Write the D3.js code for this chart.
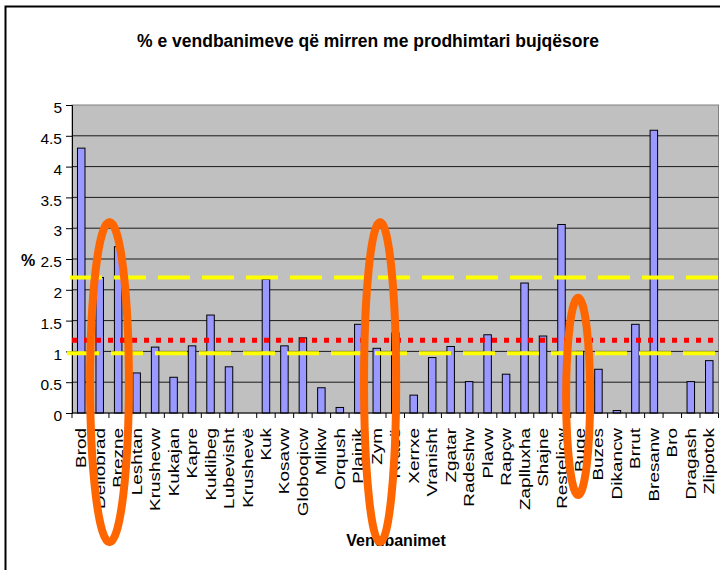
<!DOCTYPE html>
<html>
<head>
<meta charset="utf-8">
<script src="https://cdn.jsdelivr.net/npm/d3@7"></script>
<style>
  body { margin: 0; background: #fff; }
  text { font-family: "Liberation Sans", Arial, sans-serif; fill: #000; }
</style>
</head>
<body>
<div class="chart"></div>
<script>
// data
var categories = ['Brod', 'Dellobrad', 'Brezne', 'Leshtan', 'Krushevw', 'Kukajan', 'Kapre',
  'Kuklibeg', 'Lubevisht', 'Krushevë', 'Kuk', 'Kosavw', 'Globoqicw', 'Mlikw', 'Orqush',
  'Plainik', 'Zym', 'Rrasë', 'Xerrxe', 'Vranisht', 'Zgatar', 'Radeshw', 'Plavw', 'Rapçw',
  'Zaplluxha', 'Shajne', 'Resteliçw', 'Buqe', 'Buzes', 'Dikancw', 'Brrut', 'Bresanw',
  'Bro', 'Dragash', 'Zlipotok'];
var values = [4.30, 2.20, 2.70, 0.65, 1.07, 0.58, 1.09, 1.59, 0.75, 0, 2.17, 1.09, 1.22,
  0.41, 0.09, 1.44, 1.05, 1.30, 0.29, 0.90, 1.08, 0.51, 1.27, 0.63, 2.11, 1.25, 3.06,
  1.00, 0.71, 0.04, 1.44, 4.59, 0, 0.51, 0.85];
var yTicks = [0, 0.5, 1, 1.5, 2, 2.5, 3, 3.5, 4, 4.5, 5];
var yTickLabels = ['0', '0.5', '1', '1.5', '2', '2.5', '3', '3.5', '4', '4.5', '5'];
// horizontal reference lines: upper yellow, red dotted, lower yellow
var refValues = [2.2, 1.18, 0.97];
// orange ellipses drawn over the chart (category index, value top / bottom, half width in categories)
var circledIndex = [1.53, 16.18, 26.9];
var circledTop = [3.1, 3.1, 1.87];
var circledBottom = [-2.1, -2.1, -1.33];
var circledHalfWidth = [1.05, 0.87, 0.65];

var title = '% e vendbanimeve që mirren me prodhimtari bujqësore';
var xTitle = 'Vendbanimet';
var yTitle = '%';

var width = 720, height = 570;
var plot = { left: 72, right: 718.5, top: 105, bottom: 413 };

var svg = d3.select('.chart')
  .append('svg')
    .attr('width', width)
    .attr('height', height);

// chart frame (runs off the right and bottom edge)
svg.append('rect')
  .attr('x', 5.5).attr('y', 6.5)
  .attr('width', width).attr('height', height)
  .attr('fill', '#fff')
  .attr('stroke', '#000')
  .attr('stroke-width', 2);

var xScale = d3.scaleBand()
  .domain(categories)
  .range([plot.left, plot.right]);

var yScale = d3.scaleLinear()
  .domain([0, 5])
  .range([plot.bottom, plot.top]);

// plot area
svg.append('rect')
  .attr('x', plot.left).attr('y', plot.top)
  .attr('width', plot.right - plot.left).attr('height', plot.bottom - plot.top)
  .attr('fill', '#c0c0c0')
  .attr('stroke', '#808080');

// gridlines
svg.append('g')
  .selectAll('line')
  .data(yTicks.filter(d => d > 0 && d < 5))
  .enter()
  .append('line')
    .attr('x1', plot.left).attr('x2', plot.right)
    .attr('y1', d => yScale(d)).attr('y2', d => yScale(d))
    .attr('stroke', '#1a1a1a');

// bars (zero values draw nothing)
var barData = categories
  .map((c, i) => ({ name: c, value: values[i] }))
  .filter(d => d.value > 0);
var barWidth = 7.5;
svg.append('g')
  .selectAll('rect')
  .data(barData)
  .enter()
  .append('rect')
    .attr('x', d => xScale(d.name) + (xScale.step() - barWidth) / 2)
    .attr('y', d => yScale(d.value))
    .attr('width', barWidth)
    .attr('height', d => yScale(0) - yScale(d.value))
    .attr('fill', '#9999ff')
    .attr('stroke', '#000')
    .attr('stroke-width', 1);

// y axis
var yAxis = svg.append('g')
  .attr('transform', `translate(${plot.left}, 0)`)
  .call(d3.axisLeft(yScale)
    .tickValues(yTicks)
    .tickFormat((d, i) => yTickLabels[i])
    .tickSize(6)
    .tickPadding(4));
yAxis.select('.domain').attr('stroke', '#000');
yAxis.selectAll('line').attr('stroke', '#000');
yAxis.selectAll('text')
  .attr('font-family', '"Liberation Sans", Arial, sans-serif')
  .attr('font-size', 15.5)
  .attr('dy', '0.5em')
  .attr('fill', '#000');

// x axis line, ticks between categories, rotated labels
svg.append('line')
  .attr('x1', plot.left).attr('x2', plot.right)
  .attr('y1', yScale(0)).attr('y2', yScale(0))
  .attr('stroke', '#000');

svg.append('g')
  .selectAll('line')
  .data(categories.concat(['end']))
  .enter()
  .append('line')
    .attr('x1', d => d === 'end' ? plot.right : xScale(d))
    .attr('x2', d => d === 'end' ? plot.right : xScale(d))
    .attr('y1', yScale(0)).attr('y2', yScale(0) + 5)
    .attr('stroke', '#000');

svg.append('g')
  .selectAll('text')
  .data(categories)
  .enter()
  .append('text')
    .attr('transform', d => `translate(${xScale(d) + xScale.step() / 2}, ${yScale(0) + 15}) rotate(-90) scale(1.35, 1)`)
    .attr('text-anchor', 'end')
    .attr('dy', '0.36em')
    .attr('font-size', 14)
    .text(d => d);

// reference lines
var refStyle = [
  { color: '#ffff00', dash: '32,12', width: 4, start: -2 },
  { color: '#ff0000', dash: '5,7', width: 5, start: 0 },
  { color: '#ffff00', dash: '32,12', width: 4, start: -5 }
];
svg.append('g')
  .selectAll('line')
  .data(refValues)
  .enter()
  .append('line')
    .attr('x1', (d, i) => plot.left + refStyle[i].start)
    .attr('x2', plot.right)
    .attr('y1', d => yScale(d)).attr('y2', d => yScale(d))
    .attr('stroke', (d, i) => refStyle[i].color)
    .attr('stroke-width', (d, i) => refStyle[i].width)
    .attr('stroke-dasharray', (d, i) => refStyle[i].dash);

// titles
svg.append('text')
  .attr('x', 368).attr('y', 47)
  .attr('text-anchor', 'middle')
  .attr('font-size', 17.5)
  .attr('font-weight', 'bold')
  .text(title);

svg.append('text')
  .attr('x', 396).attr('y', 546)
  .attr('text-anchor', 'middle')
  .attr('font-size', 16)
  .attr('font-weight', 'bold')
  .text(xTitle);

svg.append('text')
  .attr('x', 28).attr('y', 266)
  .attr('text-anchor', 'middle')
  .attr('font-size', 16)
  .attr('font-weight', 'bold')
  .text(yTitle);

// orange ellipses on top
svg.append('g')
  .selectAll('ellipse')
  .data(circledIndex)
  .enter()
  .append('ellipse')
    .attr('cx', d => plot.left + (d + 0.5) * xScale.step())
    .attr('cy', (d, i) => (yScale(circledTop[i]) + yScale(circledBottom[i])) / 2)
    .attr('rx', (d, i) => circledHalfWidth[i] * xScale.step())
    .attr('ry', (d, i) => (yScale(circledBottom[i]) - yScale(circledTop[i])) / 2)
    .attr('fill', 'none')
    .attr('stroke', '#ff6600')
    .attr('stroke-width', 8);
</script>
</body>
</html>
